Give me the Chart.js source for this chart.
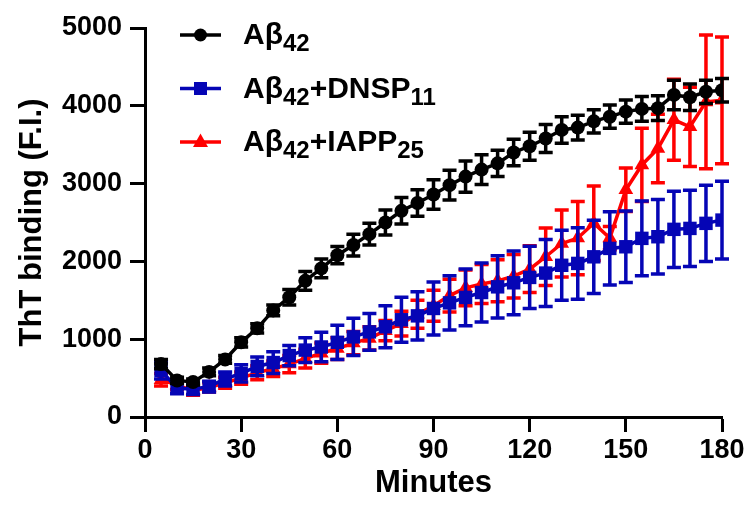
<!DOCTYPE html>
<html>
<head>
<meta charset="utf-8">
<script src="https://cdn.jsdelivr.net/npm/chart.js@4.4.1/dist/chart.umd.min.js"></script>
<style>
	html, body { margin: 0; padding: 0; background: #fff; }
	#wrap { width: 751px; height: 518px; }
</style>
</head>
<body>
<div id="wrap"><canvas id="myChart"></canvas></div>
<script>
const minutes = [5, 10, 15, 20, 25, 30, 35, 40, 45, 50, 55, 60, 65, 70, 75, 80, 85, 90,
	95, 100, 105, 110, 115, 120, 125, 130, 135, 140, 145, 150, 155, 160, 165, 170, 175, 180];

const abeta = [680, 470, 450, 580, 740, 960, 1140, 1370, 1540, 1750, 1910, 2080, 2210, 2350, 2500, 2650, 2750, 2860,
	2980, 3090, 3180, 3260, 3400, 3480, 3580, 3690, 3720, 3800, 3860, 3925, 3960, 3970, 4140, 4110, 4180, 4200];
const abetaErr = [60, 40, 40, 50, 50, 60, 60, 70, 100, 120, 120, 110, 140, 140, 160, 170, 170, 190,
	190, 200, 190, 170, 170, 180, 180, 170, 160, 150, 150, 150, 160, 160, 190, 170, 150, 150];

const dnsp = [600, 370, 360, 390, 490, 560, 650, 700, 790, 860, 900, 960, 1030, 1094, 1160, 1250, 1300, 1395,
	1467, 1537, 1600, 1673, 1725, 1794, 1850, 1950, 1974, 2059, 2167, 2188, 2296, 2317, 2412, 2424, 2489, 2531];
const dnspErr = [110, 70, 70, 70, 90, 110, 120, 140, 130, 160, 190, 220, 240, 235, 270, 290, 310, 340,
	350, 365, 380, 400, 410, 400, 430, 450, 460, 470, 470, 460, 480, 480, 490, 490, 490, 500];

const iapp = [480, 410, 340, 380, 440, 500, 570, 620, 680, 750, 820, 880, 950, 1010, 1110, 1200, 1320, 1430,
	1560, 1660, 1710, 1750, 1810, 1900, 2060, 2230, 2300, 2490, 2300, 2920, 3240, 3450, 3820, 3730, 4050, 4070];
const iappErr = [80, 60, 60, 60, 70, 80, 90, 100, 110, 120, 130, 140, 150, 150, 130, 160, 180, 200,
	210, 230, 250, 270, 280, 300, 370, 430, 470, 480, 150, 280, 470, 440, 520, 510, 860, 815];

const seriesLabels = ['Aβ42', 'Aβ42+DNSP11', 'Aβ42+IAPP25'];
const xTicks = [0, 30, 60, 90, 120, 150, 180];
const yTicks = [0, 1000, 2000, 3000, 4000, 5000];

const FONT = '"Liberation Sans", Arial, sans-serif';

function points(vals) {
	return minutes.map((m, i) => ({ x: m, y: vals[i] }));
}

// error bars, drawn under each dataset's own line and markers
const errorBars = {
	id: 'errorBars',
	beforeDatasetDraw(chart, args) {
		const ds = chart.data.datasets[args.index];
		if (!ds.errors) return;
		const xs = chart.scales.x, ys = chart.scales.y;
		const ctx = chart.ctx;
		ctx.save();
		ctx.strokeStyle = ds.borderColor;
		ctx.lineWidth = 3.5;
		ds.data.forEach((p, i) => {
			const px = xs.getPixelForValue(p.x);
			const top = ys.getPixelForValue(p.y + ds.errors[i]);
			const bot = ys.getPixelForValue(p.y - ds.errors[i]);
			ctx.beginPath();
			ctx.moveTo(px, top); ctx.lineTo(px, bot);
			ctx.moveTo(px - 7, top); ctx.lineTo(px + 7, top);
			ctx.moveTo(px - 7, bot); ctx.lineTo(px + 7, bot);
			ctx.stroke();
		});
		ctx.restore();
	}
};

function marker(ctx, style, x, y) {
	ctx.beginPath();
	if (style === 'circle') {
		ctx.arc(x, y, 6.5, 0, Math.PI * 2);
	} else if (style === 'rect') {
		ctx.rect(x - 6.5, y - 6.5, 13, 13);
	} else {
		ctx.moveTo(x, y - 8.5);
		ctx.lineTo(x + 7.5, y + 5);
		ctx.lineTo(x - 7.5, y + 5);
		ctx.closePath();
	}
	ctx.fill();
}

// legend with subscripts (digit runs in the label are subscripted)
const subLegend = {
	id: 'subLegend',
	afterDraw(chart) {
		const ctx = chart.ctx, a = chart.chartArea;
		chart.data.datasets.forEach((ds, i) => {
			const cy = a.top + 7 + i * 53.5;
			const x0 = a.left + 35;
			ctx.save();
			ctx.strokeStyle = ds.borderColor;
			ctx.fillStyle = ds.borderColor;
			ctx.lineWidth = 3.5;
			ctx.beginPath();
			ctx.moveTo(x0, cy);
			ctx.lineTo(x0 + 41, cy);
			ctx.stroke();
			marker(ctx, ds.pointStyle, x0 + 20.5, cy);

			ctx.fillStyle = '#000';
			ctx.textBaseline = 'alphabetic';
			ctx.textAlign = 'left';
			let tx = a.left + 98;
			const base = cy + 9;
			ds.label.split(/(\d+)/).forEach((part, k) => {
				if (!part) return;
				const sub = k % 2 === 1;
				ctx.font = 'bold ' + (sub ? 24 : 30) + 'px ' + FONT;
				ctx.fillText(part, tx, base + (sub ? 7 : 0));
				tx += ctx.measureText(part).width;
			});
			ctx.restore();
		});
	}
};

const datasets = [
	{
		label: seriesLabels[0],
		data: points(abeta),
		errors: abetaErr,
		borderColor: '#000000',
		backgroundColor: '#000000',
		pointStyle: 'circle',
		pointRadius: 7,
		borderWidth: 3.5,
		pointBorderWidth: 0,
		order: 1
	},
	{
		label: seriesLabels[1],
		data: points(dnsp),
		errors: dnspErr,
		borderColor: '#0505B5',
		backgroundColor: '#0505B5',
		pointStyle: 'rect',
		pointRadius: 9.5,
		borderWidth: 3.5,
		pointBorderWidth: 0,
		order: 2
	},
	{
		label: seriesLabels[2],
		data: points(iapp),
		errors: iappErr,
		borderColor: '#FF0000',
		backgroundColor: '#FF0000',
		pointStyle: 'triangle',
		pointRadius: 8.5,
		borderWidth: 3.5,
		pointBorderWidth: 0,
		order: 3
	}
];

const tickFont = { family: FONT, size: 27, weight: 'bold' };
const titleFont = { family: FONT, size: 31, weight: 'bold' };

let ctx = document.getElementById('myChart').getContext('2d');
let myChart = new Chart(ctx, {
	type: 'line',
	data: { datasets: datasets },
	plugins: [errorBars, subLegend],
	options: {
		responsive: true,
		maintainAspectRatio: false,
		animation: false,
		layout: { padding: { left: 14, right: 29, top: 28, bottom: 16 } },
		plugins: {
			legend: { display: false },
			tooltip: { enabled: false }
		},
		scales: {
			x: {
				type: 'linear',
				min: 0,
				max: 180,
				afterBuildTicks: s => { s.ticks = xTicks.map(v => ({ value: v })); },
				afterFit: s => { s.height = 85; },
				ticks: { font: tickFont, color: '#000', padding: 2, maxRotation: 0, callback: v => String(v) },
				title: { display: true, text: 'Minutes', font: titleFont, color: '#000', padding: 0 },
				grid: { drawOnChartArea: false, tickLength: 15, tickWidth: 3, tickColor: '#000' },
				border: { color: '#000', width: 3 }
			},
			y: {
				min: 0,
				max: 5000,
				afterBuildTicks: s => { s.ticks = yTicks.map(v => ({ value: v })); },
				afterFit: s => { s.width = 131; },
				ticks: { font: tickFont, color: '#000', padding: 8, callback: v => String(v) },
				title: { display: true, text: 'ThT binding (F.I.)', font: titleFont, color: '#000', padding: 0 },
				grid: { drawOnChartArea: false, tickLength: 15, tickWidth: 3, tickColor: '#000' },
				border: { color: '#000', width: 3 }
			}
		}
	}
});
</script>
</body>
</html>
